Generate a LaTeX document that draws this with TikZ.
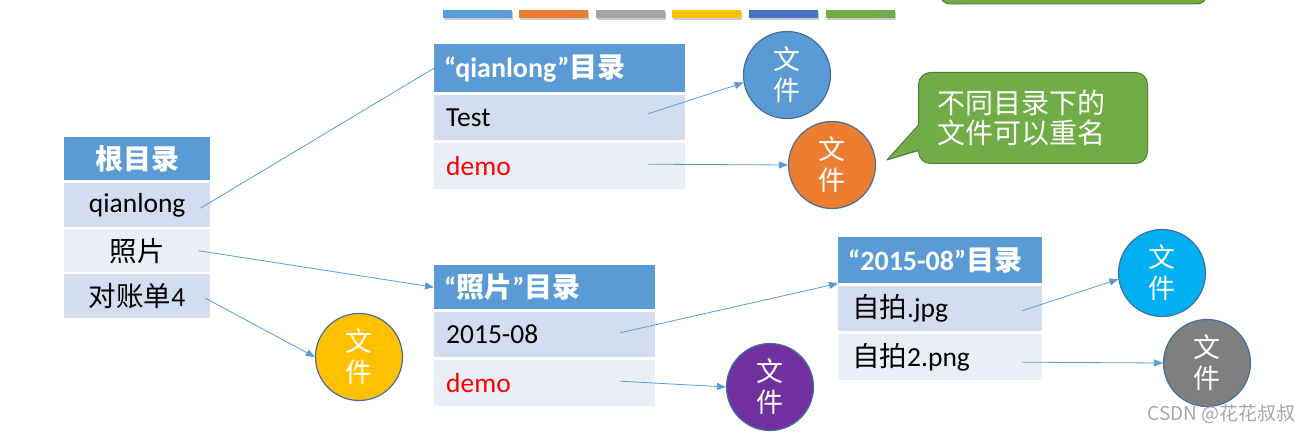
\documentclass[tikz,border=0pt]{standalone}
\usepackage{fontspec}
\setmainfont{Carlito}
\newfontfamily\cjk{Noto Sans CJK SC}
\usetikzlibrary{arrows.meta,shadows}
\definecolor{hd}{HTML}{5B9BD5}
\definecolor{rdark}{HTML}{D2DEEF}
\definecolor{rlight}{HTML}{EAEFF7}
\definecolor{ln}{HTML}{5B9BD5}
\definecolor{cb}{HTML}{41719C}
\definecolor{cblue}{HTML}{5B9BD5}
\definecolor{corange}{HTML}{ED7D31}
\definecolor{cyellow}{HTML}{FFC000}
\definecolor{cpurple}{HTML}{7030A0}
\definecolor{ccyan}{HTML}{00B0F0}
\definecolor{cgray}{HTML}{7F7F7F}
\definecolor{bgray}{HTML}{A5A5A5}
\definecolor{bdblue}{HTML}{4472C4}
\definecolor{cgreen}{HTML}{70AD47}
\definecolor{gborder}{HTML}{507E32}
\definecolor{demored}{HTML}{FF0000}
\definecolor{wmgray}{HTML}{A6A6A6}
\newcommand\zh[1]{{\cjk #1}}
\begin{document}
\begin{tikzpicture}[x=1pt,y=-1pt,
  cell/.style={anchor=north west, inner ysep=0pt, inner xsep=0pt},
  hdr/.style={cell, fill=hd, text=white, font=\bfseries\fontsize{28}{32}\selectfont},
  rowd/.style={cell, fill=rdark, text=black, font=\fontsize{27.5}{30}\selectfont},
  rowl/.style={cell, fill=rlight, text=black, font=\fontsize{27.5}{30}\selectfont},
  fnode/.style={circle, draw=cb, line width=1.2pt, minimum size=87pt, inner sep=0pt,
    text=white, font=\cjk\fontsize{27}{31}\selectfont, align=center},
  conn/.style={draw=ln, line width=0.8pt, -{Triangle[length=9pt,width=7pt]}},
  plainconn/.style={draw=ln, line width=0.8pt},
  bar/.style={anchor=north west, minimum width=69pt, minimum height=8pt, inner sep=0pt,
    drop shadow={shadow xshift=1pt, shadow yshift=-2pt, opacity=0.35, fill=black!60}},
  demo/.style={text=demored}
]
\useasboundingbox (0,0) rectangle (1310,433);

% color bars
\node[bar, fill=hd] (b1) at (443,10) {};
\node[bar, fill=corange] (b2) at (519,10) {};
\node[bar, fill=bgray] (b3) at (596,10) {};
\node[bar, fill=cyellow] (b4) at (672,10) {};
\node[bar, fill=bdblue] (b5) at (749,10) {};
\node[bar, fill=cgreen] (b6) at (826,10) {};

% top-right green box (cut off)
\draw[fill=cgreen, draw=gborder, line width=1pt, rounded corners=10pt] (940,-30) rectangle (1207,4);

% root table
\node[hdr, minimum width=146pt, minimum height=43pt] (rh) at (64,137) {\zh{根目录}};
\node[rowd, minimum width=146pt, minimum height=44pt] (r1) at (64,183) {qianlong};
\node[rowl, minimum width=146pt, minimum height=43pt] (r2) at (64,229) {\zh{照片}};
\node[rowd, minimum width=146pt, minimum height=44pt] (r3) at (64,274) {\zh{对账单}4};

% qianlong table
\node[hdr, minimum width=251pt, minimum height=48pt, inner xsep=10pt, text width=231pt, align=left] (qh) at (434,44) {“qianlong”\zh{目录}};
\node[rowd, minimum width=251pt, minimum height=45pt, inner xsep=12pt, text width=227pt, align=left] (q1) at (434,95) {Test};
\node[rowl, minimum width=251pt, minimum height=46pt, inner xsep=12pt, text width=227pt, align=left, demo] (q2) at (434,143) {demo};

% 照片 table
\node[hdr, minimum width=221pt, minimum height=44pt, inner xsep=10pt, text width=201pt, align=left] (ph) at (434,265) {“\zh{照片}”\zh{目录}};
\node[rowd, minimum width=221pt, minimum height=45pt, inner xsep=12pt, text width=197pt, align=left] (p1) at (434,312) {2015-08};
\node[rowl, minimum width=221pt, minimum height=46pt, inner xsep=12pt, text width=197pt, align=left, demo] (p2) at (434,360) {demo};

% 2015-08 table
\node[hdr, minimum width=204pt, minimum height=46pt, inner xsep=10pt, text width=184pt, align=left] (dh) at (838,237) {“2015-08”\zh{目录}};
\node[rowd, minimum width=204pt, minimum height=45pt, inner xsep=14pt, text width=176pt, align=left] (d1) at (838,286) {\zh{自拍}.jpg};
\node[rowl, minimum width=204pt, minimum height=46pt, inner xsep=14pt, text width=176pt, align=left] (d2) at (838,334) {\zh{自拍}2.png};

% file circles
\node[fnode, fill=cblue] (c1) at (787,75) {文\\件};
\node[fnode, fill=corange] (c2) at (832,165) {文\\件};
\node[fnode, fill=cyellow] (c3) at (359,357) {文\\件};
\node[fnode, fill=cpurple] (c4) at (770,387) {文\\件};
\node[fnode, fill=ccyan] (c5) at (1162,273) {文\\件};
\node[fnode, fill=cgray] (c6) at (1207,363) {文\\件};

% callout
\node[anchor=north west, minimum width=229pt, minimum height=91pt, inner xsep=19pt, inner ysep=0pt,
  text width=191pt, align=left, rounded corners=12pt, fill=cgreen, draw=gborder, line width=1pt,
  text=white, font=\cjk\fontsize{28}{30}\selectfont] (cl) at (918,72) {不同目录下的\\文件可以重名};
\fill[cgreen] (919.5,124) -- (887,160) -- (919.5,151) -- cycle;
\draw[gborder, line width=1pt, line join=round] (918.5,125) -- (887,160) -- (918.5,150);

% connectors
\draw[plainconn] ([shift={(-10,3)}]r1.east) -- (qh.west);
\draw[conn] ([xshift=-12pt]r2.east) -- (ph.west);
\draw[conn] ([shift={(-5,2)}]r3.east) -- (c3.west);
\draw[conn] ([shift={(-37,-4)}]q1.east) -- (c1.190);
\draw[conn] ([shift={(-37,-2)}]q2.east) -- (c2.west);
\draw[conn] ([shift={(-35,-2)}]p1.east) -- (dh.south west);
\draw[conn] ([shift={(-35,-2)}]p2.east) -- (c4.west);
\draw[conn] ([shift={(-20,2)}]d1.east) -- (c5.188);
\draw[conn] ([shift={(-20,5)}]d2.east) -- (c6.west);

% watermark
\node[anchor=south east, inner sep=0pt, text=wmgray, font=\cjk\fontsize{19}{22}\selectfont] (wm) at (1296,424) {CSDN @花花叔叔};
\end{tikzpicture}
\end{document}
